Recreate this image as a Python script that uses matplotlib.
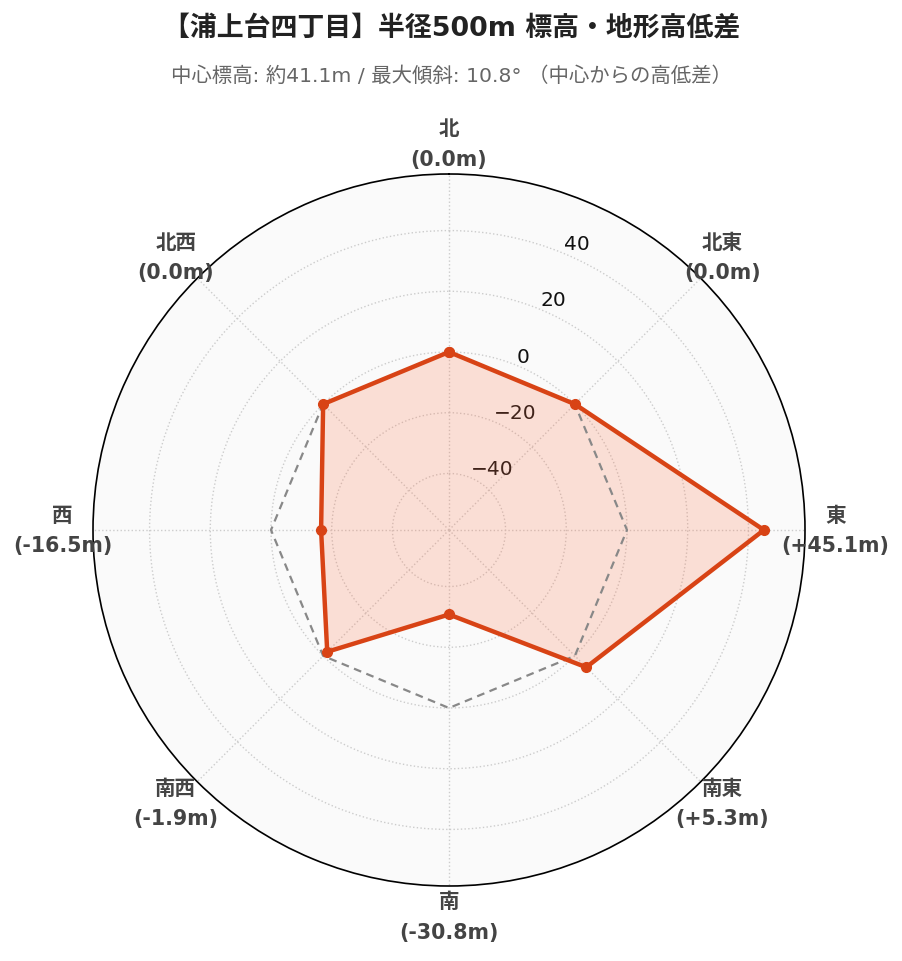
import numpy as np
import matplotlib
matplotlib.use("Agg")
import matplotlib.pyplot as plt

plt.rcParams['font.family'] = ['DejaVu Sans', 'Noto Sans CJK JP']

directions = ['北', '北東', '東', '南東', '南', '南西', '西', '北西']
diffs = [0.0, 0.0, 45.1, 5.3, -30.8, -1.9, -16.5, 0.0]
diff_labels = ['(0.0m)', '(0.0m)', '(+45.1m)', '(+5.3m)', '(-30.8m)', '(-1.9m)', '(-16.5m)', '(0.0m)']
reference = [0, 0, 0, 0, 0, 0, 0, 0]
rticks = [-40, -20, 0, 20, 40]
title = '【浦上台四丁目】半径500m 標高・地形高低差'
subtitle = '中心標高: 約41.1m / 最大傾斜: 10.8° （中心からの高低差）'

color = '#d84315'
fill_color = '#ff7043'
n = len(directions)
angles = np.linspace(0, 2 * np.pi, n, endpoint=False)
ang_c = np.concatenate([angles, angles[:1]])
vals_c = np.concatenate([diffs, diffs[:1]])
ref_c = np.concatenate([reference, reference[:1]])

fig = plt.figure(figsize=(9.03, 9.62), dpi=100)
ax = fig.add_axes([93 / 903, 75 / 962, 712 / 903, 712 / 962], projection='polar')
ax.set_theta_zero_location('N')
ax.set_theta_direction(-1)
lim = max(abs(v) for v in diffs) * 1.3
ax.set_ylim(-lim, lim)
ax.set_facecolor('#fafafa')

ax.plot(ang_c, ref_c, linestyle=(0, (3.5, 2.5)), color='#888888', lw=1.6, zorder=3)
ax.fill(ang_c, vals_c, color=fill_color, alpha=0.2, lw=0, zorder=2)
ax.plot(ang_c, vals_c, color=color, lw=3.2, marker='o', markersize=7, zorder=4)

ax.set_xticks(angles)
ax.set_xticklabels([])
ax.set_yticks(rticks)
ax.tick_params(axis='y', labelsize=14.5, colors='#111111')
ax.grid(True, linestyle=':', color='#cccccc', lw=1.0)
ax.spines['polar'].set_color('black')
ax.spines['polar'].set_linewidth(1.2)

r_lab = lim + 10.0
for a, d, l in zip(angles, directions, diff_labels):
    ax.text(a, r_lab, d + '\n' + l, ha='center', va='center', fontsize=14.8,
            fontweight='bold', color='#444444', linespacing=1.65, clip_on=False)

fig.text(0.5, 1 - 28 / 962, title, ha='center', va='center', fontsize=19.4,
         fontweight='bold', color='#222222')
fig.text(0.5, 1 - 76 / 962, subtitle, ha='center', va='center', fontsize=14.7,
         color='#666666')

fig.savefig('out.png', dpi=100)
